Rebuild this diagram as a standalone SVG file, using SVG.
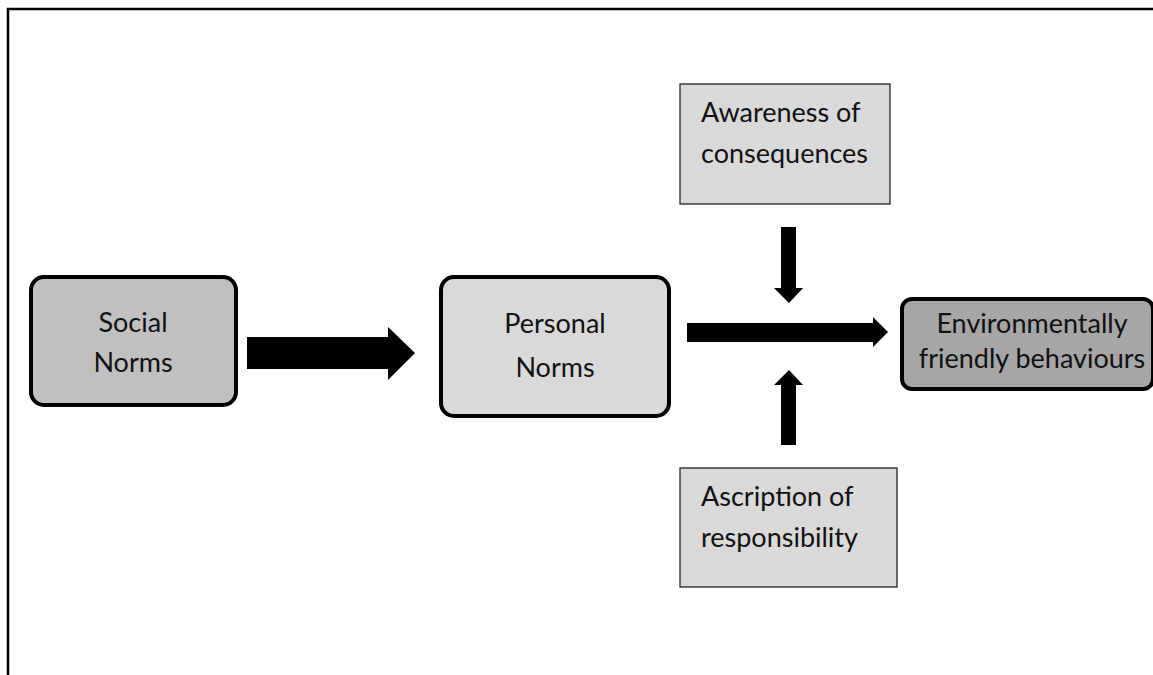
<svg xmlns="http://www.w3.org/2000/svg" width="1153" height="675" viewBox="0 0 1153 675">
<style>
text{font-family:Lato,"Open Sans","Liberation Sans",sans-serif;font-size:27px;fill:#111}
.c{text-anchor:middle}
.rb{stroke:#000;stroke-width:4}
.sq{stroke:#222;stroke-width:1.3;fill:#d9d9d9}
.ar{fill:#000}
</style>
<rect width="1153" height="675" fill="#fff"/>
<path d="M8,675 V9 H1153" fill="none" stroke="#000" stroke-width="2.5"/>
<g id="social-norms">
<rect class="rb" x="31" y="277" width="205" height="128" rx="13" fill="#c0c0c0"/>
<text class="c" x="133" y="332">Social</text>
<text class="c" x="133" y="372">Norms</text>
</g>
<g id="personal-norms">
<rect class="rb" x="441" y="277" width="228" height="139" rx="13" fill="#d9d9d9"/>
<text class="c" x="555" y="333">Personal</text>
<text class="c" x="555" y="377">Norms</text>
</g>
<g id="environmentally-friendly">
<rect class="rb" x="902" y="299" width="251" height="90" rx="10" fill="#a6a6a6"/>
<text class="c" x="1032" y="333">Environmentally</text>
<text class="c" x="1032" y="368">friendly behaviours</text>
</g>
<g id="awareness">
<rect class="sq" x="680" y="84" width="210" height="120"/>
<text x="701" y="122">Awareness of</text>
<text x="701" y="163">consequences</text>
</g>
<g id="ascription">
<rect class="sq" x="680" y="468" width="217" height="119"/>
<text x="701" y="506">Ascription of</text>
<text x="701" y="547">responsibility</text>
</g>
<g id="connectors">
<polygon class="ar" points="247,337 388,337 388,327 415,353 388,380 388,369 247,369"/>
<polygon class="ar" points="687,323 873,323 873,317 888,332 873,347 873,342 687,342"/>
<polygon class="ar" points="781,227 796,227 796,288 803,288 789,303 774,288 781,288"/>
<polygon class="ar" points="781,445 796,445 796,385 803,385 789,370 774,385 781,385"/>
</g>
</svg>
